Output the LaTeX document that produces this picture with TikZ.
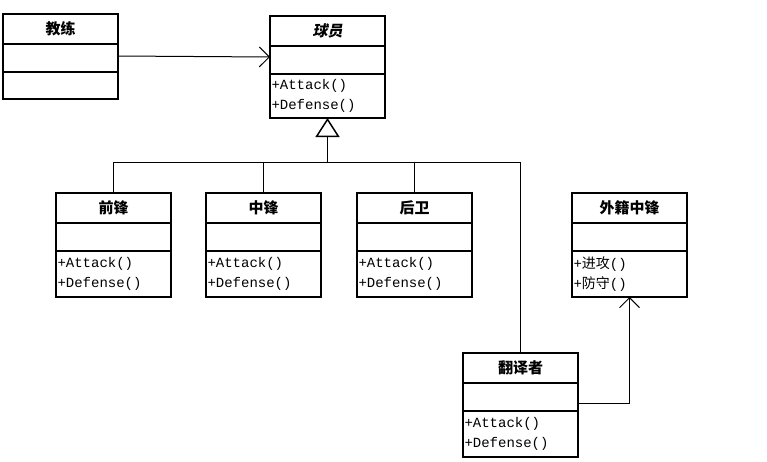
\documentclass[tikz,border=0pt]{standalone}
\usepackage{fontspec}
\setmonofont{Liberation Mono}
\newfontfamily\cjk{Noto Sans CJK SC}
\newfontfamily\cjksl[FakeSlant=0.2]{Noto Sans CJK SC}
\usetikzlibrary{positioning,arrows.meta}
\begin{document}
\begin{tikzpicture}[x=1pt,y=-1pt,
    classname/.style={draw, line width=1.5pt, outer sep=0pt, minimum width=115pt, minimum height=30pt, inner sep=0pt, font=\cjk\bfseries\fontsize{15}{15}\selectfont},
    attrs/.style={draw, line width=1.5pt, outer sep=0pt, minimum width=115pt, minimum height=28pt, inner sep=0pt},
    methods/.style={draw, line width=1.5pt, outer sep=0pt, minimum height=46pt, inner xsep=1.5pt, inner ysep=0pt, text width=112pt, align=left, font=\ttfamily\fontsize{14}{20}\selectfont},
    assoc/.style={line width=1pt, -{Straight Barb[length=10pt,width=20pt]}},
    inherit/.style={line width=1pt, -{Triangle[open,length=19pt,width=24pt,line width=1.5pt]}}]
    \useasboundingbox (0,0) rectangle (767,461);
    % abstract player class
    \node[classname, font=\cjksl\bfseries\fontsize{15}{15}\selectfont] (qy) at (327.5,31) {球员};
    \node[attrs, below=0pt of qy] (qy-a) {};
    \node[methods, below=0pt of qy-a, minimum height=44pt] (qy-m) {+Attack()\\+Defense()};
    % coach
    \node[classname] (jl) at (60.5,29) {教练};
    \node[attrs, below=0pt of jl] (jl-a) {};
    \node[attrs, below=0pt of jl-a, minimum height=27pt] (jl-m) {};
    \draw[assoc] ([yshift=2pt]jl-a.east) -- ([yshift=3pt]qy-a.west);
    % subclasses and the bus line
    \coordinate (bus) at (327.5,162);
    \draw[inherit] (bus) -- (qy-m.south);
    \foreach \x/\n/\t in {113.5/qf/前锋, 263.5/zf/中锋, 414.5/hw/后卫} {
        \node[classname] (\n) at (\x,208) {\t};
        \node[attrs, below=0pt of \n] (\n-a) {};
        \node[methods, below=0pt of \n-a] (\n-m) {+Attack()\\+Defense()};
        \draw[line width=1pt] (\n.north) |- (bus);
    }
    % foreign center
    \node[classname] (wj) at (629.5,208) {外籍中锋};
    \node[attrs, below=0pt of wj] (wj-a) {};
    \node[methods, below=0pt of wj-a] (wj-m) {+{\cjk 进攻}()\\+{\cjk 防守}()};
    % translator
    \node[classname] (fy) at (520.5,368) {翻译者};
    \node[attrs, below=0pt of fy] (fy-a) {};
    \node[methods, below=0pt of fy-a] (fy-m) {+Attack()\\+Defense()};
    \draw[line width=1pt] (fy.north) |- (bus);
    \draw[assoc] ([yshift=-6pt]fy-a.east) -| (wj-m.south);
\end{tikzpicture}
\end{document}
